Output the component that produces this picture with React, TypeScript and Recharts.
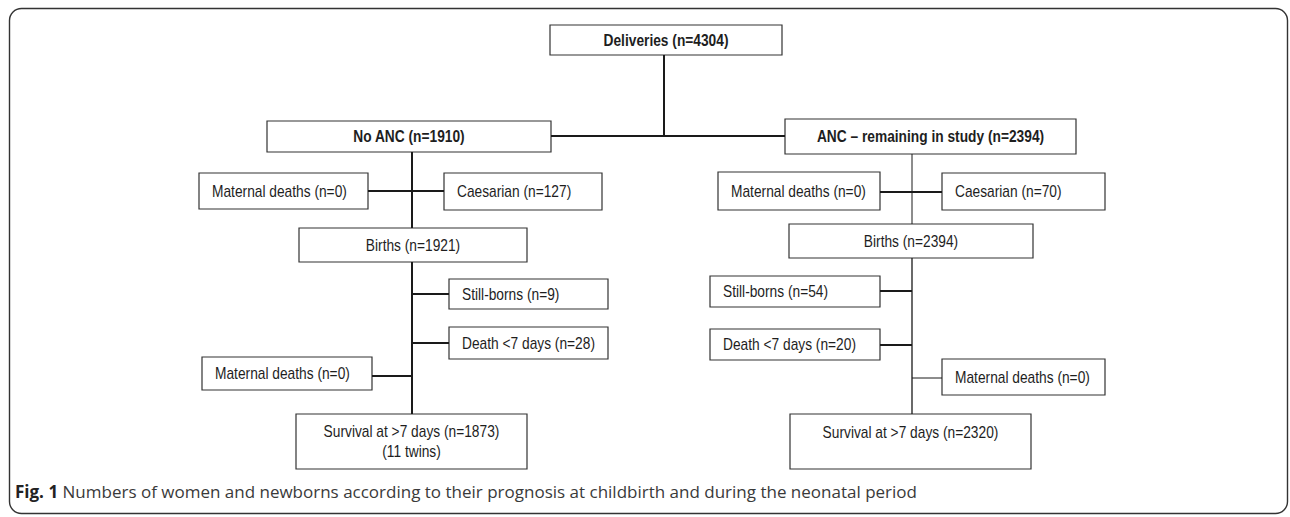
import React from "react";
import { ComposedChart, XAxis, YAxis, ReferenceArea, ReferenceLine, Label, Scatter } from "recharts";

// ---- Diagram data (flowchart nodes in diagram units) ----
const nodeIds = ["deliveries", "noAnc", "anc", "matL", "caesL", "birthsL", "stillL", "deathL", "matL2", "survL", "matR", "caesR", "birthsR", "stillR", "deathR", "matR2", "survR"];
const nodeLabels: string[][] = [
  ["Deliveries (n=4304)"],
  ["No ANC (n=1910)"],
  ["ANC \u2013 remaining in study (n=2394)"],
  ["Maternal deaths (n=0)"],
  ["Caesarian (n=127)"],
  ["Births (n=1921)"],
  ["Still-borns (n=9)"],
  ["Death <7 days (n=28)"],
  ["Maternal deaths (n=0)"],
  ["Survival at >7 days (n=1873)", "(11 twins)"],
  ["Maternal deaths (n=0)"],
  ["Caesarian (n=70)"],
  ["Births (n=2394)"],
  ["Still-borns (n=54)"],
  ["Death <7 days (n=20)"],
  ["Maternal deaths (n=0)"],
  ["Survival at >7 days (n=2320)"],
];
const nodeX1 = [550, 267, 785, 199, 444, 299, 449, 449, 202, 296, 718, 942, 789, 710, 710, 942, 790];
const nodeX2 = [782, 551, 1076, 368, 602, 527, 608, 608, 372, 527, 880, 1105, 1033, 880, 880, 1105, 1031];
const nodeY1 = [25, 121, 119, 173, 173, 228, 279, 327, 357, 414, 172, 173, 224, 276, 329, 359, 414];
const nodeY2 = [55, 152, 154, 209, 210, 262, 309, 359, 390, 469, 210, 210, 258, 307, 360, 395, 469];

// connectors: start and end points
const edgeFrom: [number, number][] = [
  [664, 55], [551, 136], [412, 152], [368, 191], [412, 262], [412, 294], [412, 343], [372, 376],
  [912, 154], [880, 192], [912, 258], [880, 291], [880, 345], [912, 378],
];
const edgeTo: [number, number][] = [
  [664, 136], [785, 136], [412, 228], [444, 191], [412, 414], [449, 294], [449, 343], [412, 376],
  [912, 224], [942, 192], [912, 414], [912, 291], [912, 345], [942, 378],
];

const captionBold = "Fig. 1";
const captionText = " Numbers of women and newborns according to their prognosis at childbirth and during the neonatal period";

// ---- Styles (kept apart from data) ----
const W = 1290;
const H = 517;
const boldNodes = new Set(["deliveries", "noAnc", "anc"]);
const leftAligned = new Set(["matL", "caesL", "stillL", "deathL", "matL2", "matR", "caesR", "stillR", "deathR", "matR2"]);
const topAligned = new Set(["survR"]);
const edgeWidths = [2, 2, 2, 2, 2, 2, 2, 2, 1, 2, 1.3, 2, 2, 1];
const BOX_FONT = "'Liberation Sans', Arial, Helvetica, sans-serif";
const NARROW = 0.86;

const nodes = nodeIds.map((id, i) => ({
  id,
  lines: nodeLabels[i],
  x1: nodeX1[i],
  x2: nodeX2[i],
  y1: nodeY1[i],
  y2: nodeY2[i],
  cx: (nodeX1[i] + nodeX2[i]) / 2,
  cy: (nodeY1[i] + nodeY2[i]) / 2,
}));

function makeLabel(id: string, lines: string[]) {
  return (props: any) => {
    const vb = props.viewBox || {};
    const x = vb.x ?? 0;
    const y = vb.y ?? 0;
    const w = vb.width ?? 0;
    const h = vb.height ?? 0;
    const left = leftAligned.has(id);
    const tx = left ? x + 13 : x + w / 2;
    const lh = 20;
    const startY = topAligned.has(id) ? y + 18 : y + h / 2 - ((lines.length - 1) * lh) / 2;
    return (
      <g transform={`translate(${tx},0) scale(${NARROW},1)`}>
        <text
          x={0}
          textAnchor={left ? "start" : "middle"}
          fontFamily={BOX_FONT}
          fontSize={16}
          fontWeight={boldNodes.has(id) ? 700 : 400}
          fill="#1e1e1e"
        >
          {lines.map((ln, k) => (
            <tspan key={k} x={0} y={startY + k * lh} dy="0.36em">
              {ln}
            </tspan>
          ))}
        </text>
      </g>
    );
  };
}

export default function App() {
  return (
    <div style={{ position: "absolute", left: 0, top: 0, width: W, height: H, background: "#fff" }}>
      <ComposedChart width={W} height={H} data={nodes} margin={{ top: 0, right: 0, bottom: 0, left: 0 }}>
        <XAxis type="number" dataKey="cx" domain={[0, W]} hide allowDataOverflow />
        <YAxis type="number" dataKey="cy" domain={[0, H]} reversed hide allowDataOverflow />
        {edgeFrom.map((p, i) => (
          <ReferenceLine
            key={"e" + i}
            segment={[{ x: p[0], y: p[1] }, { x: edgeTo[i][0], y: edgeTo[i][1] }]}
            stroke="#1a1a1a"
            strokeWidth={edgeWidths[i]}
            ifOverflow="visible"
          />
        ))}
        {nodes.map((n) => (
          <ReferenceArea
            key={n.id}
            x1={n.x1}
            x2={n.x2}
            y1={n.y1}
            y2={n.y2}
            fill="#ffffff"
            fillOpacity={1}
            stroke="#333333"
            strokeWidth={1.2}
            ifOverflow="visible"
          >
            <Label content={makeLabel(n.id, n.lines)} />
          </ReferenceArea>
        ))}
        <Scatter dataKey="cy" fill="none" shape={() => <g />} isAnimationActive={false} />
      </ComposedChart>
      <svg width={W} height={H} style={{ position: "absolute", left: 0, top: 0, pointerEvents: "none" }}>
        <rect x={9.5} y={8.5} width={1278} height={505} rx={12} ry={12} fill="none" stroke="#333" strokeWidth={1.4} />
        <text x={15} y={498} fontFamily="'Open Sans', 'Noto Sans', sans-serif" fontSize={17} fill="#3a3a3a">
          <tspan fontWeight={700} fill="#222">{captionBold}</tspan>
          <tspan>{captionText}</tspan>
        </text>
      </svg>
    </div>
  );
}
